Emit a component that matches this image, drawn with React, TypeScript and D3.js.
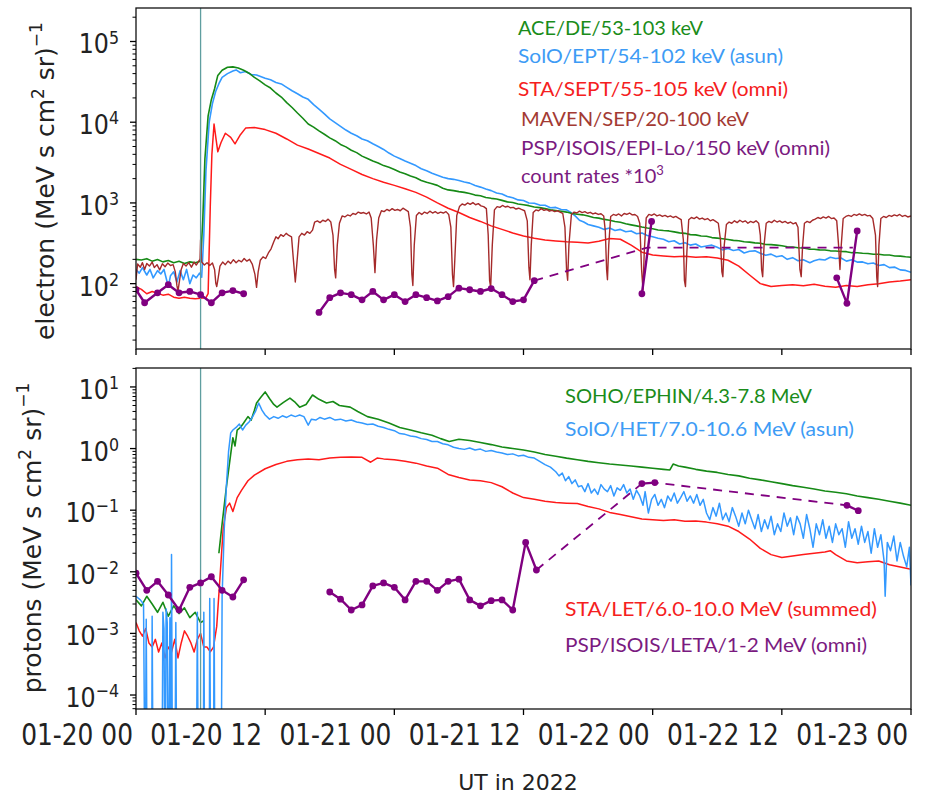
import * as d3 from "d3";

type Pt = [number, number | null];

// hours after 2022-01-20 00 UT
const START = Date.UTC(2022, 0, 20);
const END = Date.UTC(2022, 0, 23);
const hr = (h: number) => new Date(START + h * 3600e3);

// ---- electrons (upper panel) ----
const aceDe: Pt[] = [
  [0, 200], [0.5, 196], [1, 204], [1.5, 190], [2, 199], [2.5, 186], [3, 193], [3.5, 182], [4, 189], [4.5, 178],
  [5, 186], [5.5, 181], [6, 190], [6.2, 600], [6.4, 3500], [6.7, 12000], [7.0, 19000], [7.3, 26000], [7.6, 38000],
  [8.0, 44000], [8.5, 48000], [9.0, 48500], [9.5, 47000], [10, 44000], [10.5, 40500], [11, 36000], [11.5, 32500],
  [12, 29000], [12.5, 26500], [13, 23000], [13.5, 20500], [14, 17500], [14.5, 15200], [15, 13000], [15.5, 11200],
  [16, 9500], [16.5, 8700], [17, 7800], [17.5, 7100], [18, 6400], [18.5, 5900], [19, 5300], [19.5, 4950], [20, 4500],
  [20.5, 4200], [21, 3800], [21.5, 3550], [22, 3300], [22.5, 3120], [23, 2900], [23.5, 2760], [24, 2600], [24.5, 2420],
  [25, 2300], [25.5, 2150], [26, 2050], [26.5, 1900], [27, 1800], [27.5, 1730], [28, 1650], [28.5, 1520], [29, 1450],
  [29.5, 1420], [30, 1380], [30.5, 1350], [31, 1310], [31.5, 1250], [32, 1225], [32.5, 1170], [33, 1140], [33.5, 1120],
  [34, 1075], [34.5, 1030], [35, 1010], [35.5, 970], [36, 950], [36.5, 925], [37, 890], [37.5, 875], [38, 850],
  [38.5, 820], [39, 805], [39.5, 790], [40, 770], [40.5, 740], [41, 725], [41.5, 712], [42, 690], [42.5, 660], [43, 648],
  [43.5, 625], [44, 610], [44.5, 590], [45, 577], [45.5, 552], [46, 535], [46.5, 520], [47, 502], [47.5, 488], [48, 478],
  [48.5, 462], [49, 455], [49.5, 450], [50, 438], [50.5, 426], [51, 420], [51.5, 405], [52, 402], [52.5, 390], [53, 386],
  [53.5, 372], [54, 366], [54.5, 360], [55, 352], [55.5, 344], [56, 340], [56.5, 330], [57, 327], [57.5, 320], [58, 316],
  [58.5, 306], [59, 304], [59.5, 300], [60, 295], [60.5, 287], [61, 284], [61.5, 278], [62, 276], [62.5, 268], [63, 267],
  [63.5, 262], [64, 261], [64.5, 255], [65, 254], [65.5, 250], [66, 249], [66.5, 242], [67, 241], [67.5, 238], [68, 236],
  [68.5, 231], [69, 231], [69.5, 226], [70, 226], [70.5, 220], [71, 219], [71.5, 215], [72, 212],
];

const soloEpt: Pt[] = [
  [0, 150], [0.3, 135], [0.6, 158], [1, 128], [1.3, 150], [1.6, 118], [2, 145], [2.3, 132], [2.6, 150], [3, 92],
  [3.2, 125], [3.5, 140], [3.8, 105], [4.1, 145], [4.4, 112], [4.7, 150], [5, 100], [5.3, 128], [5.6, 118], [5.9, 135],
  [6.1, 120], [6.3, 400], [6.5, 2500], [6.8, 10000], [7.1, 17000], [7.4, 24000], [7.7, 30000], [8.0, 36000],
  [8.5, 40000], [9.0, 43000], [9.3, 44500], [9.7, 41000], [10.2, 42500], [10.7, 39000], [11.2, 38500], [12, 35000],
  [12.5, 33500], [13, 31000], [13.5, 29800], [14, 27000], [14.5, 24500], [15, 22500], [15.5, 20500], [16, 19200],
  [16.5, 16500], [17, 14500], [17.5, 12700], [18, 11000], [18.5, 9900], [19, 8900], [19.5, 8000], [20, 7300],
  [20.5, 6800], [21, 6200], [21.5, 5900], [22, 5400], [22.5, 5000], [23, 4600], [23.5, 4150], [24, 3800], [24.5, 3550],
  [25, 3300], [25.5, 3100], [26, 2900], [26.5, 2650], [27, 2500], [27.5, 2330], [28, 2200], [28.5, 2080], [29, 2000],
  [29.5, 1960], [30, 1900], [30.5, 1820], [31, 1760], [31.5, 1640], [32, 1570], [32.5, 1490], [33, 1420], [33.5, 1330],
  [34, 1290], [34.5, 1200], [35, 1160], [35.5, 1090], [36, 1070], [36.5, 1000], [37, 990], [37.5, 940], [38, 935],
  [38.5, 870], [39, 880], [39.5, 830], [40, 820], [40.4, 760], [40.8, 690], [41.2, 610], [41.6, 580], [42, 540],
  [42.5, 520], [43, 500], [43.5, 470], [44, 490], [44.5, 455], [45, 470], [45.5, 440], [46, 450], [46.5, 415], [47, 425],
  [47.5, 395], [48, 380], [48.5, 365], [49, 355], [49.5, 330], [50, 340], [50.5, 310], [51, 322], [51.5, 300], [52, 310],
  [52.5, 285], [53, 292], [53.5, 300], [54, 282], [54.5, 262], [55, 272], [55.5, 258], [56, 265], [56.5, 240], [57, 252],
  [57.5, 255], [58, 238], [58.5, 225], [59, 232], [59.5, 215], [60, 222], [60.5, 200], [61, 210], [61.5, 192], [62, 198],
  [62.6, 182], [63, 192], [63.5, 200], [64, 196], [64.5, 212], [65, 205], [65.5, 208], [66, 190], [66.5, 198], [67, 185],
  [67.5, 186], [68, 176], [68.5, 180], [69, 168], [69.5, 172], [70, 158], [70.5, 160], [71, 148], [71.5, 146], [72, 138],
];

const staSept: Pt[] = [
  [0, 92], [0.5, 85], [1, 75], [1.5, 80], [2, 76], [2.5, 72], [3, 74], [3.5, 68], [4, 66], [4.5, 68], [5, 66], [5.5, 65],
  [6, 66], [6.5, 67], [6.7, 75], [6.9, 900], [7.05, 4000], [7.25, 9500], [7.45, 6000], [7.6, 4300], [7.9, 5600],
  [8.3, 7300], [8.8, 6500], [9.2, 5400], [9.7, 7000], [10.2, 8500], [11, 8600], [12, 8100], [13, 7300], [14, 6200],
  [15, 5200], [16, 4650], [17, 4100], [18, 3600], [19, 3000], [20, 2600], [21, 2250], [22, 2000], [23, 1800], [24, 1650],
  [25, 1500], [26, 1350], [27, 1180], [28, 1000], [29, 860], [30, 760], [31, 660], [32, 590], [33, 520], [34, 470],
  [35, 425], [36, 390], [37, 365], [38, 348], [39, 338], [40, 330], [41, 325], [42, 318], [43, 335], [44, 362], [45, 355],
  [46, 300], [47, 245], [48, 226], [49, 220], [50, 215], [51, 218], [52, 212], [53, 215], [54, 208], [55, 195], [56, 165],
  [57, 128], [58, 100], [59, 92], [60, 95], [61, 97], [62, 94], [63, 98], [64, 93], [65, 90], [66, 95], [67, 92], [68, 97],
  [69, 100], [70, 105], [71, 108], [72, 112],
];

const mavenSep: Pt[] = [
  [0, 112], [0.15, 175], [0.4, 160], [0.6, 182], [0.8, 150], [1.0, 178], [1.25, 165], [1.5, 185], [1.7, 158],
  [1.95, 172], [2.2, 148], [2.45, 176], [2.7, 162], [2.95, 180], [3.2, 168], [3.45, 172], [3.65, 140], [3.8, 95],
  [3.9, 80], [4.0, 100], [4.2, 150], [4.4, 178], [4.65, 165], [4.9, 182], [5.15, 160], [5.4, 185], [5.6, 170],
  [5.8, 188], [5.95, 200], [6.0, 350], [6.1, 185], [6.35, 170], [6.6, 182], [6.85, 168], [7.1, 180], [7.3, 150],
  [7.42, 100], [7.5, 92], [7.6, 110], [7.8, 165], [8.05, 185], [8.3, 172], [8.55, 190], [8.8, 178], [9.05, 198],
  [9.3, 182], [9.55, 195], [9.8, 186], [10.05, 205], [10.3, 190], [10.55, 200], [10.8, 175], [11.05, 130], [11.2, 90],
  [11.35, 140], [11.55, 195], [11.8, 215], [12.05, 205], [12.3, 240], [12.55, 270], [12.8, 330], [13.0, 380],
  [13.2, 360], [13.45, 405], [13.7, 385], [13.95, 420], [14.2, 395], [14.45, 380], [14.62, 200], [14.8, 105],
  [14.95, 180], [15.15, 380], [15.4, 420], [15.65, 400], [15.9, 440], [16.15, 420], [16.4, 460], [16.6, 580],
  [16.85, 600], [17.1, 570], [17.35, 610], [17.6, 590], [17.85, 630], [18.1, 580], [18.3, 400], [18.45, 150],
  [18.55, 118], [18.7, 300], [18.9, 560], [19.15, 690], [19.4, 670], [19.65, 710], [19.9, 690], [20.15, 740],
  [20.4, 720], [20.65, 770], [20.9, 745], [21.15, 760], [21.4, 730], [21.65, 770], [21.85, 650], [22.05, 300],
  [22.2, 137], [22.35, 350], [22.55, 650], [22.8, 800], [23.05, 780], [23.3, 830], [23.55, 800], [23.8, 850],
  [24.05, 810], [24.3, 830], [24.55, 800], [24.8, 860], [25.05, 820], [25.3, 780], [25.5, 500], [25.63, 130],
  [25.72, 95], [25.85, 300], [26.05, 700], [26.3, 760], [26.55, 720], [26.8, 770], [27.05, 740], [27.3, 790],
  [27.55, 750], [27.8, 780], [28.05, 740], [28.3, 770], [28.55, 750], [28.8, 780], [29.05, 720], [29.25, 500],
  [29.4, 130], [29.5, 92], [29.62, 200], [29.8, 700], [30.05, 900], [30.3, 970], [30.55, 940], [30.8, 1000],
  [31.05, 960], [31.3, 1010], [31.55, 950], [31.8, 980], [32.05, 920], [32.3, 900], [32.55, 850], [32.72, 400],
  [32.85, 110], [32.95, 90], [33.1, 300], [33.3, 820], [33.55, 900], [33.8, 880], [34.05, 930], [34.3, 890],
  [34.55, 910], [34.8, 870], [35.05, 880], [35.3, 840], [35.55, 860], [35.8, 830], [36.1, 800], [36.35, 600],
  [36.5, 160], [36.6, 112], [36.72, 300], [36.9, 760], [37.15, 820], [37.4, 800], [37.65, 850], [37.9, 810],
  [38.15, 830], [38.4, 790], [38.65, 810], [38.9, 780], [39.15, 800], [39.4, 770], [39.65, 740], [39.85, 500],
  [40.0, 150], [40.1, 110], [40.22, 300], [40.45, 720], [40.7, 770], [40.95, 750], [41.2, 790], [41.45, 760],
  [41.7, 780], [41.95, 745], [42.2, 765], [42.45, 730], [42.7, 750], [42.95, 720], [43.2, 735], [43.45, 690],
  [43.6, 450], [43.72, 150], [43.8, 112], [43.92, 300], [44.1, 680], [44.35, 720], [44.6, 700], [44.85, 730],
  [45.1, 690], [45.35, 740], [45.6, 720], [45.85, 750], [46.1, 710], [46.35, 720], [46.6, 680], [46.8, 560],
  [46.97, 150], [47.1, 84], [47.22, 250], [47.4, 650], [47.65, 720], [47.9, 700], [48.15, 730], [48.4, 690],
  [48.65, 710], [48.9, 680], [49.15, 700], [49.4, 670], [49.65, 690], [49.9, 660], [50.15, 680], [50.4, 650],
  [50.65, 620], [50.85, 350], [50.95, 110], [51.05, 92], [51.18, 250], [51.35, 620], [51.6, 660], [51.85, 640],
  [52.1, 670], [52.35, 630], [52.6, 650], [52.85, 620], [53.1, 640], [53.35, 600], [53.6, 620], [53.85, 590],
  [54.1, 560], [54.3, 350], [54.43, 140], [54.52, 122], [54.65, 300], [54.85, 540], [55.1, 580], [55.35, 560],
  [55.6, 600], [55.85, 570], [56.1, 610], [56.35, 580], [56.6, 600], [56.85, 560], [57.1, 590], [57.35, 570],
  [57.6, 600], [57.85, 560], [58.0, 400], [58.12, 150], [58.22, 122], [58.35, 300], [58.55, 560], [58.8, 590],
  [59.05, 570], [59.3, 610], [59.55, 580], [59.8, 600], [60.05, 570], [60.3, 590], [60.55, 560], [60.8, 580],
  [61.05, 550], [61.3, 570], [61.5, 500], [61.68, 150], [61.8, 122], [61.92, 280], [62.1, 560], [62.35, 590],
  [62.6, 570], [62.85, 610], [63.1, 630], [63.35, 660], [63.6, 640], [63.85, 670], [64.1, 650], [64.35, 680],
  [64.6, 640], [64.85, 650], [65.1, 600], [65.27, 300], [65.4, 150], [65.52, 300], [65.7, 640], [65.95, 680],
  [66.2, 700], [66.45, 680], [66.7, 720], [66.95, 700], [67.2, 730], [67.45, 700], [67.7, 720], [67.95, 690],
  [68.2, 700], [68.45, 640], [68.7, 400], [68.82, 120], [68.9, 92], [69.02, 300], [69.2, 640], [69.45, 680],
  [69.7, 660], [69.95, 700], [70.2, 680], [70.45, 710], [70.7, 690], [70.95, 720], [71.2, 680], [71.45, 700],
  [71.7, 670], [72, 690],
];

// PSP/ISOIS/EPI-Lo count rates *1e3 (segments split by null)
const pspEpiLo: Pt[] = [
  [0, 84], [0.8, 58], [2, 77], [3, 97], [4, 77], [5, 80], [6, 73], [7, 58], [8, 77], [9, 82], [10, 75], [10.5, null],
  [17, 44], [18, 67], [19, 77], [20, 73], [21, 63], [22, 80], [23, 63], [24, 73], [25, 60], [26, 73], [27, 67], [28, 61],
  [29, 69], [30, 88], [31, 84], [32, 80], [33, 87], [34, 73], [35, 60], [36, 63], [37, 109], [37.5, null],
  [47.0, 75], [47.9, 590], [48.5, null],
  [65.1, 118], [66.05, 57], [67.0, 450],
];
const pspEpiLoGap: Pt[] = [[37, 109], [47.5, 280], [66.6, 280]];

// ---- protons (lower panel) ----
const sohoEphin: Pt[] = [
  [0, 0.0035], [0.5, 0.0028], [1, 0.004], [1.5, 0.003], [2, 0.0022], [2.5, 0.0032], [3, 0.0019], [3.5, 0.0028],
  [4, 0.0021], [4.5, 0.0026], [5, 0.0018], [5.5, 0.0022], [6, 0.0015], [6.3, 0.0016], [6.5, null],
  [7.7, 0.02], [8.0, 0.06], [8.4, 0.24], [8.7, 0.6], [9.0, 1.5], [9.2, 1.1], [9.4, 2.0], [9.7, 2.2], [10.0, 2.6],
  [10.4, 3.3], [10.7, 2.9], [11.0, 4.2], [11.2, 5.5], [11.6, 6.8], [12.0, 8.3], [12.4, 6.5], [12.8, 5.2], [13.1, 4.7],
  [13.7, 5.6], [14.3, 6.6], [14.8, 5.6], [15.2, 4.7], [15.8, 5.2], [16.4, 7.4], [17.0, 6.3], [17.7, 5.5], [18.3, 5.8],
  [18.9, 5.0], [19.9, 4.7], [20.6, 4.0], [21.5, 3.3], [22.5, 3.0], [23.5, 2.6], [24.5, 2.2], [25.5, 2.0], [26.5, 1.8],
  [27.5, 1.65], [28.3, 1.45], [29.1, 1.3], [30, 1.42], [31, 1.35], [32, 1.25], [33, 1.16], [34, 1.06], [35, 1.0],
  [36, 0.95], [37, 0.88], [38, 0.8], [39, 0.75], [40, 0.7], [41, 0.66], [42, 0.62], [43, 0.59], [44, 0.56], [45, 0.54],
  [46, 0.52], [47, 0.5], [48, 0.48], [49, 0.46], [49.6, 0.45], [49.9, 0.56], [50.4, 0.52], [51, 0.5], [52, 0.46],
  [53, 0.43], [54, 0.41], [55, 0.38], [56, 0.36], [57, 0.33], [58, 0.31], [59, 0.29], [60, 0.27], [61, 0.25],
  [62, 0.235], [63, 0.22], [64, 0.205], [65, 0.195], [66, 0.185], [67, 0.17], [68, 0.16], [69, 0.15], [70, 0.14],
  [71, 0.13], [72, 0.12],
];

// zero counts are kept as 1e-6 so they fall off the bottom of the axis
const soloHet: Pt[] = [
  [0, 0.004], [0.4, 0.0035], [0.7, 0.003], [0.85, 1e-6], [0.95, 0.0017], [1.05, 1e-6], [1.45, 1e-6], [1.5, 0.0019],
  [1.6, 1e-6], [2.4, 1e-6], [2.5, 0.0022], [2.6, 0.0012], [2.7, 1e-6], [2.8, 0.0025], [2.9, 0.0015], [3.0, 1e-6],
  [3.15, 0.0018], [3.25, 1e-6], [3.3, 0.019], [3.4, 1e-6], [3.6, 1e-6], [3.7, 0.0015], [3.8, 1e-6], [5.6, 1e-6],
  [5.7, 0.0022], [5.8, 1e-6], [6.25, 1e-6], [6.3, 0.0022], [6.4, 1e-6], [6.8, 1e-6], [6.85, 0.0037], [6.95, 1e-6],
  [7.2, 1e-6], [7.25, 0.0037], [7.35, 1e-6], [7.9, 1e-6], [8.0, 0.004], [8.2, 0.05], [8.4, 0.25], [8.6, 0.9],
  [8.8, 1.8], [9.0, 2.0], [9.3, 2.2], [9.6, 2.5], [9.9, 2.0], [10.2, 2.4], [10.5, 2.7], [10.8, 3.2], [11.1, 4.0],
  [11.4, 5.5], [11.7, 4.2], [12.0, 3.5], [12.4, 3.0], [12.8, 3.3], [13.2, 3.1], [13.6, 3.4], [14.0, 3.2], [14.4, 3.5],
  [14.8, 3.3], [15.2, 3.5], [15.6, 3.3], [16.0, 2.4], [16.3, 3.0], [16.7, 2.9], [17.1, 3.2], [17.5, 3.0], [18.0, 3.2],
  [18.5, 2.9], [19.0, 3.0], [19.5, 2.8], [20.0, 2.9], [20.5, 2.7], [21.0, 2.6], [21.5, 2.45], [22.0, 2.5], [22.5, 2.3],
  [23.0, 2.2], [23.5, 2.05], [24.0, 1.95], [24.5, 1.75], [25.0, 1.7], [25.5, 1.6], [26.0, 1.55], [26.5, 1.45],
  [27.0, 1.4], [27.5, 1.3], [28.0, 1.3], [28.5, 1.2], [29.0, 1.15], [29.5, 1.05], [30.0, 1.0], [30.5, 0.97],
  [31.0, 1.02], [31.5, 0.95], [32.0, 0.98], [32.5, 0.9], [33.0, 0.93], [33.5, 0.88], [34.0, 0.85], [34.5, 0.8],
  [35.0, 0.82], [35.5, 0.76], [36.0, 0.78], [36.5, 0.72], [37.0, 0.7], [37.5, 0.62], [38.0, 0.55], [38.5, 0.5],
  [39.0, 0.42], [39.3, 0.36], [39.6, 0.4], [39.9, 0.3], [40.2, 0.35], [40.5, 0.27], [40.8, 0.31], [41.1, 0.24],
  [41.4, 0.25], [41.7, 0.2], [42.0, 0.27], [42.3, 0.19], [42.6, 0.22], [42.9, 0.18], [43.2, 0.26], [43.5, 0.22],
  [43.8, 0.2], [44.1, 0.25], [44.4, 0.17], [44.7, 0.23], [45.0, 0.21], [45.3, 0.26], [45.6, 0.19], [45.9, 0.22],
  [46.2, 0.15], [46.5, 0.21], [46.8, 0.17], [47.1, 0.12], [47.3, 0.2], [47.6, 0.09], [47.9, 0.15], [48.2, 0.18],
  [48.5, 0.12], [48.8, 0.15], [49.1, 0.11], [49.4, 0.17], [49.7, 0.14], [50.0, 0.19], [50.3, 0.13], [50.6, 0.16],
  [50.9, 0.2], [51.2, 0.14], [51.5, 0.17], [51.8, 0.13], [52.1, 0.18], [52.4, 0.12], [52.7, 0.15], [53.0, 0.09],
  [53.3, 0.07], [53.6, 0.11], [53.9, 0.08], [54.2, 0.13], [54.5, 0.07], [54.8, 0.09], [55.1, 0.065], [55.4, 0.11],
  [55.7, 0.08], [56.0, 0.055], [56.3, 0.09], [56.6, 0.06], [56.9, 0.1], [57.2, 0.07], [57.5, 0.05], [57.8, 0.085],
  [58.1, 0.045], [58.4, 0.07], [58.7, 0.05], [59.0, 0.08], [59.3, 0.04], [59.6, 0.06], [59.9, 0.045], [60.2, 0.09],
  [60.5, 0.055], [60.8, 0.075], [61.1, 0.04], [61.4, 0.08], [61.7, 0.06], [62.0, 0.035], [62.3, 0.085], [62.6, 0.05],
  [62.9, 0.025], [63.2, 0.06], [63.5, 0.04], [63.8, 0.07], [64.1, 0.035], [64.4, 0.055], [64.7, 0.03], [65.0, 0.06],
  [65.3, 0.04], [65.6, 0.05], [65.9, 0.025], [66.2, 0.065], [66.5, 0.035], [66.8, 0.05], [67.1, 0.028], [67.4, 0.055],
  [67.7, 0.03], [68.0, 0.045], [68.3, 0.02], [68.6, 0.05], [68.9, 0.025], [69.2, 0.04], [69.5, 0.015], [69.6, 0.004],
  [69.8, 0.03], [70.1, 0.022], [70.4, 0.038], [70.7, 0.015], [71.0, 0.03], [71.3, 0.018], [71.6, 0.012],
  [71.85, 0.025], [72.0, 0.006],
];

const staLet: Pt[] = [
  [0, 0.0015], [0.3, 0.0011], [0.6, 0.0009], [0.9, 0.0012], [1.2, 0.0007], [1.5, 0.0006], [1.8, 0.0008], [2.1, 0.0005],
  [2.4, 0.0007], [2.7, 0.0004], [3.0, 0.0006], [3.3, 0.0005], [3.6, 0.0008], [3.9, 0.0004], [4.2, 0.0007],
  [4.5, 0.0011], [4.8, 0.0009], [5.1, 0.0007], [5.4, 0.0005], [5.7, 0.0008], [6.0, 0.001], [6.3, 0.0006],
  [6.6, 0.0006], [6.9, 0.0005], [7.2, 0.0006], [7.5, 0.0013], [7.8, 0.008], [8.1, 0.05], [8.4, 0.11], [8.7, 0.13],
  [9.0, 0.095], [9.4, 0.16], [9.8, 0.21], [10.4, 0.3], [11.0, 0.37], [12, 0.47], [13, 0.55], [14, 0.62], [15, 0.66],
  [16, 0.68], [17, 0.66], [18, 0.7], [19, 0.72], [20, 0.73], [21, 0.72], [21.8, 0.6], [22.4, 0.7], [23, 0.68],
  [24, 0.66], [25, 0.62], [26, 0.58], [27, 0.52], [28, 0.48], [29, 0.38], [30, 0.34], [31, 0.31], [32, 0.3], [33, 0.28],
  [34, 0.24], [35, 0.19], [36, 0.16], [37, 0.15], [38, 0.14], [39, 0.133], [40, 0.13], [41, 0.128], [42, 0.115],
  [43, 0.105], [44, 0.092], [45, 0.085], [46, 0.078], [47, 0.072], [48, 0.07], [49, 0.068], [50, 0.07], [51, 0.066],
  [52, 0.067], [53, 0.064], [54, 0.06], [55, 0.055], [56, 0.045], [57, 0.034], [58, 0.024], [59, 0.019], [60, 0.017],
  [61, 0.018], [62, 0.019], [63, 0.02], [64, 0.021], [64.5, 0.022], [65, 0.019], [66, 0.015], [67, 0.014], [68, 0.0145],
  [69, 0.015], [70, 0.013], [71, 0.012], [72, 0.011],
];

const pspLeta: Pt[] = [
  [0, 0.0095], [1, 0.005], [2, 0.007], [3, 0.0042], [4, 0.0024], [5, 0.0056], [6, 0.0066], [7, 0.0083], [8, 0.005],
  [9, 0.0039], [10, 0.0074], [10.5, null],
  [18, 0.0047], [19, 0.0036], [20, 0.0024], [21, 0.0029], [22, 0.0059], [23, 0.0066], [24, 0.0056], [25, 0.0035],
  [26, 0.007], [27, 0.007], [28, 0.005], [29, 0.007], [30, 0.0076], [31, 0.0035], [32, 0.0028], [33, 0.0034],
  [34, 0.0035], [35, 0.0024], [36.2, 0.03], [37.2, 0.0107], [37.5, null],
  [47.0, 0.27], [48.2, 0.28], [48.5, null],
  [66.05, 0.12], [67.1, 0.098],
];
const pspLetaGap: Pt[] = [[37.2, 0.0107], [47.0, 0.27], [48.2, 0.28], [66.05, 0.12]];

const ONSET_HOUR = 6;

const legendTop = [
  { label: "ACE/DE/53-103 keV", color: "#1a8c1a", len: 185 },
  { label: "SolO/EPT/54-102 keV (asun)", color: "#3d9bf5", len: 265 },
  { label: "STA/SEPT/55-105 keV (omni)", color: "#f52020", len: 270 },
  { label: "MAVEN/SEP/20-100 keV", color: "#a33a33", len: 228 },
  { label: "PSP/ISOIS/EPI-Lo/150 keV (omni)", color: "#7a1a80", len: 309 },
];
const legendBottom = [
  { label: "SOHO/EPHIN/4.3-7.8 MeV", color: "#1a8c1a", len: 247 },
  { label: "SolO/HET/7.0-10.6 MeV (asun)", color: "#3d9bf5", len: 289 },
  { label: "STA/LET/6.0-10.0 MeV (summed)", color: "#f52020", len: 312 },
  { label: "PSP/ISOIS/LETA/1-2 MeV (omni)", color: "#7a1a80", len: 302 },
];

const GREEN = "#168a16";
const BLUE = "#3399ff";
const RED = "#ff1a1a";
const BROWN = "#a52a2a";
const PURPLE = "#800080";

const W = 925;
const H = 798;
const L = 136;
const R = 911;
const TOP = { y0: 8, y1: 349 };
const BOT = { y0: 368, y1: 709 };
const TICK_FONT = "DejaVu Sans, Verdana, sans-serif";
const LEG_FONT = "Lato, 'Open Sans', sans-serif";

const x = d3.scaleUtc().domain([new Date(START), new Date(END)]).range([L, R]);
const yE = d3.scaleLog().domain([15.5, 2.6e5]).range([TOP.y1, TOP.y0]);
const yP = d3.scaleLog().domain([5.93e-5, 20.3]).range([BOT.y1, BOT.y0]);

const mkLine = (y: d3.ScaleLogarithmic<number, number>) =>
  d3
    .line<Pt>()
    .defined((d) => d[1] != null)
    .x((d) => x(hr(d[0])))
    .y((d) => y(d[1] as number));

const isMajor = (t: number) => Math.abs(Math.log10(t) - Math.round(Math.log10(t))) < 1e-9;

function YAxis({ y }: { y: d3.ScaleLogarithmic<number, number> }) {
  const ticks = y.ticks().filter((t) => y(t) >= y.range()[1] - 0.5 && y(t) <= y.range()[0] + 0.5);
  return (
    <g>
      {ticks.map((t) => {
        const major = isMajor(t);
        const yy = y(t);
        const e = Math.round(Math.log10(t));
        return (
          <g key={t}>
            <line x1={L - (major ? 6 : 3.5)} x2={L} y1={yy} y2={yy} stroke="#000" strokeWidth={major ? 1.3 : 1} />
            {major && (
              <g transform={`translate(119,${yy + 12}) scale(0.88,1)`}>
                <text textAnchor="end" fontFamily={TICK_FONT} fontSize={27} fill="#222">
                  10
                  <tspan fontSize={18} dy={-10}>
                    {e < 0 ? `\u2212${-e}` : `${e}`}
                  </tspan>
                </text>
              </g>
            )}
          </g>
        );
      })}
    </g>
  );
}

function XTicks({ y1, labels }: { y1: number; labels: boolean }) {
  const ticks = x.ticks(d3.utcHour.every(12) as d3.TimeInterval);
  const fmt = d3.utcFormat("%m-%d %H");
  return (
    <g>
      {ticks.map((t) => (
        <g key={+t}>
          <line x1={x(t)} x2={x(t)} y1={y1} y2={y1 + 6} stroke="#000" strokeWidth={1.3} />
          {labels && (
            <g transform={`translate(${x(t) - 3},745) scale(0.83,1)`}>
              <text textAnchor="end" fontFamily={TICK_FONT} fontSize={30} fill="#222">
                {fmt(t)}
              </text>
            </g>
          )}
        </g>
      ))}
    </g>
  );
}

function Dots({ data, y }: { data: Pt[]; y: d3.ScaleLogarithmic<number, number> }) {
  return (
    <g fill={PURPLE}>
      {data
        .filter((d) => d[1] != null)
        .map((d, i) => (
          <circle key={i} cx={x(hr(d[0]))} cy={y(d[1] as number)} r={3.4} />
        ))}
    </g>
  );
}

export default function App() {
  const lineE = mkLine(yE);
  const lineP = mkLine(yP);
  const xOn = x(hr(ONSET_HOUR));

  return (
    <svg
      width={W}
      height={H}
      viewBox={`0 0 ${W} ${H}`}
      style={{ position: "absolute", left: 0, top: 0, background: "#fff" }}
    >
      <defs>
        <clipPath id="clipTop">
          <rect x={L} y={TOP.y0} width={R - L} height={TOP.y1 - TOP.y0} />
        </clipPath>
        <clipPath id="clipBot">
          <rect x={L} y={BOT.y0} width={R - L} height={BOT.y1 - BOT.y0} />
        </clipPath>
      </defs>
      <rect width={W} height={H} fill="#fff" />

      {/* upper panel: electrons */}
      <g clipPath="url(#clipTop)" fill="none" strokeLinejoin="round">
        <path d={lineE(soloEpt) ?? ""} stroke={BLUE} strokeWidth={1.6} />
        <path d={lineE(aceDe) ?? ""} stroke={GREEN} strokeWidth={1.6} />
        <path d={lineE(staSept) ?? ""} stroke={RED} strokeWidth={1.5} />
        <path d={lineE(mavenSep) ?? ""} stroke={BROWN} strokeWidth={1.4} />
        <line x1={xOn} x2={xOn} y1={TOP.y0} y2={TOP.y1} stroke="#5f9ea0" strokeWidth={1.3} />
        <path d={lineE(pspEpiLoGap) ?? ""} stroke={PURPLE} strokeWidth={1.8} strokeDasharray="9,7" />
        <path d={lineE(pspEpiLo) ?? ""} stroke={PURPLE} strokeWidth={2.4} />
        <Dots data={pspEpiLo} y={yE} />
      </g>
      <rect x={L} y={TOP.y0} width={R - L} height={TOP.y1 - TOP.y0} fill="none" stroke="#111" strokeWidth={1.3} />
      <YAxis y={yE} />
      <XTicks y1={TOP.y1} labels={false} />
      <g fontFamily={LEG_FONT} fontSize={20}>
        {legendTop.map((d, i) => (
          <text
            key={d.label}
            x={i < 3 ? 518 : 521}
            y={[35, 63, 96, 126, 155][i]}
            fill={d.color}
            textLength={d.len}
            lengthAdjust="spacingAndGlyphs"
          >
            {d.label}
          </text>
        ))}
        <text x={521} y={183} fill="#7a1a80">
          count rates *10
          <tspan fontSize={13} dy={-8}>
            3
          </tspan>
        </text>
      </g>

      {/* lower panel: protons */}
      <g clipPath="url(#clipBot)" fill="none" strokeLinejoin="round">
        <path d={lineP(sohoEphin) ?? ""} stroke={GREEN} strokeWidth={1.6} />
        <path d={lineP(staLet) ?? ""} stroke={RED} strokeWidth={1.5} />
        <path d={lineP(soloHet) ?? ""} stroke={BLUE} strokeWidth={1.5} />
        <line x1={xOn} x2={xOn} y1={BOT.y0} y2={BOT.y1} stroke="#5f9ea0" strokeWidth={1.3} />
        <path d={lineP(pspLetaGap) ?? ""} stroke={PURPLE} strokeWidth={1.8} strokeDasharray="9,7" />
        <path d={lineP(pspLeta) ?? ""} stroke={PURPLE} strokeWidth={2.4} />
        <Dots data={pspLeta} y={yP} />
      </g>
      <rect x={L} y={BOT.y0} width={R - L} height={BOT.y1 - BOT.y0} fill="none" stroke="#111" strokeWidth={1.3} />
      <YAxis y={yP} />
      <XTicks y1={BOT.y1} labels={true} />
      <g fontFamily={LEG_FONT} fontSize={20}>
        {legendBottom.map((d, i) => (
          <text
            key={d.label}
            x={565}
            y={[403, 436, 616, 652][i]}
            fill={d.color}
            textLength={d.len}
            lengthAdjust="spacingAndGlyphs"
          >
            {d.label}
          </text>
        ))}
      </g>

      {/* axis titles */}
      <text
        transform="translate(54,181) rotate(-90)"
        textAnchor="middle"
        fontFamily={TICK_FONT}
        fontSize={25}
        fill="#222"
      >
        electron (MeV s cm
        <tspan fontSize={17} dy={-10}>
          2
        </tspan>
        <tspan dy={10}> sr)</tspan>
        <tspan fontSize={17} dy={-12}>
          {"\u22121"}
        </tspan>
      </text>
      <text
        transform="translate(41,538) rotate(-90)"
        textAnchor="middle"
        fontFamily={TICK_FONT}
        fontSize={25}
        fill="#222"
      >
        protons (MeV s cm
        <tspan fontSize={17} dy={-10}>
          2
        </tspan>
        <tspan dy={10}> sr)</tspan>
        <tspan fontSize={17} dy={-12}>
          {"\u22121"}
        </tspan>
      </text>
      <text x={518} y={790} textAnchor="middle" fontFamily={TICK_FONT} fontSize={22} fill="#222">
        UT in 2022
      </text>
    </svg>
  );
}
